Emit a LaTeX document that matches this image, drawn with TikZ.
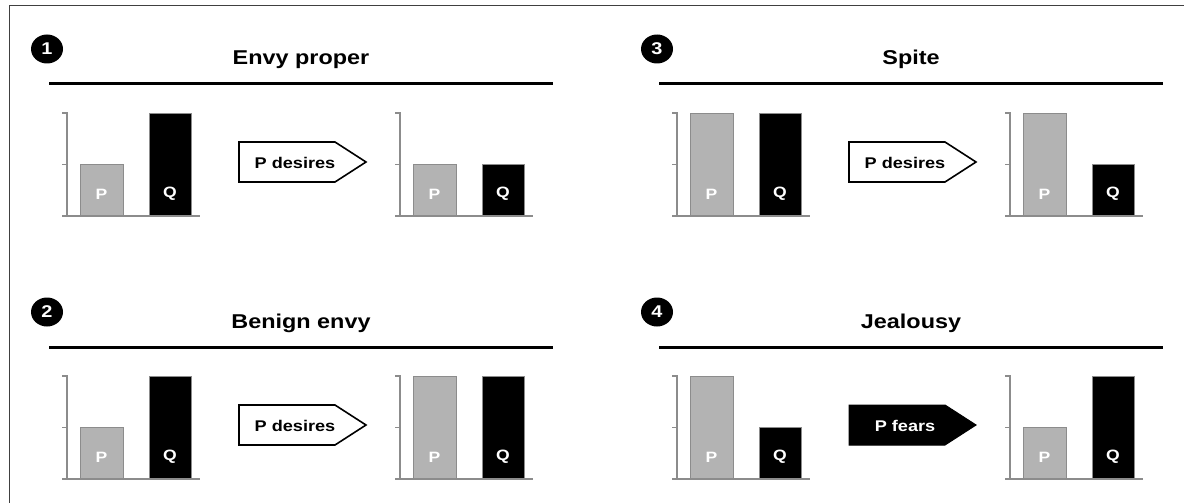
\documentclass[tikz,border=0pt]{standalone}
\usepackage{fontspec}
\setmainfont{Liberation Sans}[FakeStretch=1.17]
\definecolor{barg}{HTML}{B3B3B3}
\definecolor{axg}{HTML}{8C8C8C}
\definecolor{frm}{HTML}{404040}
\usetikzlibrary{shapes.geometric}
\newcommand\chartat[5]{% #1 name, #2 axis x, #3 base y, #4 P units, #5 Q units
  \draw[pbar] (#2+13,#3) rectangle (#2+56,#3-51.5*#4);
  \draw[qbar] (#2+82,#3) rectangle (#2+124,#3-51.5*#5);
  \draw[axisl] (#2-5,#3-103) -- (#2,#3-103) -- (#2,#3);
  \draw[axisl] (#2-5,#3-51.5) -- (#2,#3-51.5);
  \draw[axisl] (#2-5,#3) -- (#2+133,#3);
  \node[barlbl] (#1P) at (#2+34.5,#3-22) {P};
  \node[barlbl] (#1Q) at (#2+103,#3-22) {Q};
}
\newcommand\signat[5]{% #1 name, #2 left x, #3 top y, #4 style, #5 text
  \draw[#4] (#2,#3) -- (#2+96,#3) -- (#2+127,#3+20) -- (#2+96,#3+40) -- (#2,#3+40) -- cycle;
  \node[signtxt, #4txt] (#1) at (#2+56,#3+20.5) {#5};
}
\newcommand\panelhead[3]{% #1 name, #2 number, #3 title
  \node[numc] (#1n) at (47,49) {#2};
  \node[title] (#1t) at (301,65) {#3};
  \coordinate (#1a) at (49,84);
  \coordinate (#1b) at (553,84);
  \draw[uline] (#1a) -- (#1b);
}
\begin{document}
\begin{tikzpicture}[x=1pt,y=-1pt,
  axisl/.style={draw=axg, line width=1.2pt},
  pbar/.style={fill=barg, draw=axg, line width=1pt},
  qbar/.style={fill=black, draw=axg, line width=1pt},
  barlbl/.style={font=\bfseries\fontsize{15}{15}\selectfont, text=white, inner sep=0pt},
  title/.style={font=\bfseries\fontsize{20}{20}\selectfont, anchor=base, inner sep=0pt},
  numc/.style={ellipse, fill=black, minimum width=32pt, minimum height=29pt, inner sep=0pt,
    text=white, font=\bfseries\fontsize{17}{17}\selectfont},
  uline/.style={line width=3pt},
  signtxt/.style={font=\bfseries\fontsize{15.5}{15.5}\selectfont, inner sep=0pt},
  hollow/.style={draw=black, fill=white, line width=1.6pt, line join=miter},
  hollowtxt/.style={text=black},
  solid/.style={draw=black, fill=black, line width=1pt},
  solidtxt/.style={text=white},
  framel/.style={draw=frm, line width=1.5pt}]
\useasboundingbox (0,0) rectangle (1189,503);
\coordinate (fr1) at (9.5,503);
\coordinate (fr2) at (9.5,5.5);
\coordinate (fr3) at (1184,5.5);
\draw[framel] (fr1) -- (fr2) -- (fr3);
% Panel 1
\begin{scope}
  \panelhead{a}{1}{Envy proper}
  \chartat{aL}{67}{216}{1}{2}
  \signat{aS}{239}{142}{hollow}{P desires}
  \chartat{aR}{400}{216}{1}{1}
\end{scope}
% Panel 2
\begin{scope}[shift={(0,263)}]
  \panelhead{b}{2}{Benign envy}
  \chartat{bL}{67}{216}{1}{2}
  \signat{bS}{239}{142}{hollow}{P desires}
  \chartat{bR}{400}{216}{2}{2}
\end{scope}
% Panel 3
\begin{scope}[shift={(610,0)}]
  \panelhead{c}{3}{Spite}
  \chartat{cL}{67}{216}{2}{2}
  \signat{cS}{239}{142}{hollow}{P desires}
  \chartat{cR}{400}{216}{2}{1}
\end{scope}
% Panel 4
\begin{scope}[shift={(610,263)}]
  \panelhead{d}{4}{Jealousy}
  \chartat{dL}{67}{216}{2}{1}
  \signat{dS}{239}{142}{solid}{P fears}
  \chartat{dR}{400}{216}{1}{2}
\end{scope}
\end{tikzpicture}
\end{document}
